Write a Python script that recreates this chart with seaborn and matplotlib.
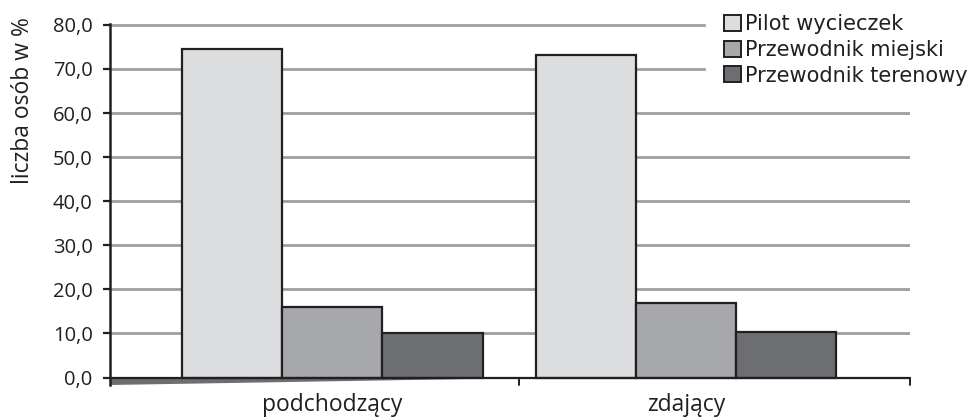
import matplotlib
matplotlib.use("Agg")
import matplotlib.pyplot as plt
import seaborn as sns
import pandas as pd
from matplotlib.ticker import FuncFormatter
from matplotlib.patches import Patch, Polygon

categories = ["podchodzący", "zdający"]
series = ["Pilot wycieczek", "Przewodnik miejski", "Przewodnik terenowy"]
pilot = [74.6, 73.2]
miejski = [15.9, 16.8]
terenowy = [10.0, 10.4]
y_ticks = [0, 10, 20, 30, 40, 50, 60, 70, 80]

colors = ["#dcdddf", "#a7a8ab", "#6d6e71"]
edge = "#231f20"
grid_c = "#9d9fa2"

df = pd.DataFrame({
    "kategoria": categories * 3,
    "seria": [s for s in series for _ in categories],
    "wartosc": pilot + miejski + terenowy,
})

sns.set_theme(style="white")
plt.rcParams["font.family"] = ["Open Sans", "DejaVu Sans"]

fig = plt.figure(figsize=(9.72, 4.17), dpi=100)
ax = fig.add_axes([110 / 972, 32 / 417, 800 / 972, (385 - 24) / 417])

sns.barplot(data=df, x="kategoria", y="wartosc", hue="seria", order=categories,
            hue_order=series, palette=colors, width=0.85, saturation=1,
            edgecolor=edge, linewidth=1.6, legend=False, ax=ax, zorder=3)

x_left, x_right = -0.629, 1.634
y_bottom = -1.7
ax.set_xlim(x_left, x_right)
ax.set_ylim(y_bottom, 80.2)

# horizontal grid
for t in y_ticks[1:]:
    ax.axhline(t, color=grid_c, lw=2, zorder=1)

# floor wedge under the first category
split = 0.527
ax.add_patch(Polygon([(x_left, 0), (split, 0), (split, -0.15), (x_left, y_bottom)],
                     closed=True, facecolor="#6d6e71", edgecolor="none", zorder=2))
ax.plot([x_left, x_right], [0, 0], color=edge, lw=1.6, zorder=4, clip_on=False)
for xv in (split, x_right):
    ax.plot([xv, xv], [0, y_bottom], color=edge, lw=1.4, zorder=4, clip_on=False)

for s in ["top", "right", "bottom"]:
    ax.spines[s].set_visible(False)
ax.spines["left"].set_color(edge)
ax.spines["left"].set_linewidth(1.8)
ax.spines["left"].set_zorder(5)

ax.set_yticks(y_ticks)
ax.yaxis.set_major_formatter(FuncFormatter(lambda v, p: f"{v:.1f}".replace(".", ",")))
ax.tick_params(axis="y", left=True, length=5, width=1.6, color=edge, labelsize=14.5,
               labelcolor="#231f20", pad=7.5)
ax.tick_params(axis="x", bottom=False, length=0, labelsize=16.5, labelcolor="#231f20", pad=6)
ax.set_xlabel("")
ax.set_ylabel("liczba osób w %", fontsize=16.5, color="#231f20")
ax.yaxis.set_label_coords(-0.094, 0.787)

handles = [Patch(facecolor=c, edgecolor=edge, linewidth=1.4) for c in colors]
leg = fig.legend(handles, series, loc="upper right", bbox_to_anchor=(1.015, 1.0103),
                 frameon=True, facecolor="white", edgecolor="white", framealpha=1,
                 prop={"family": "DejaVu Sans", "size": 15}, handlelength=0.8,
                 handleheight=0.8, handletextpad=0.2, labelspacing=0.27,
                 borderpad=0.9, borderaxespad=0)
for txt in leg.get_texts():
    txt.set_color("#231f20")

fig.savefig("out.png", dpi=100)
